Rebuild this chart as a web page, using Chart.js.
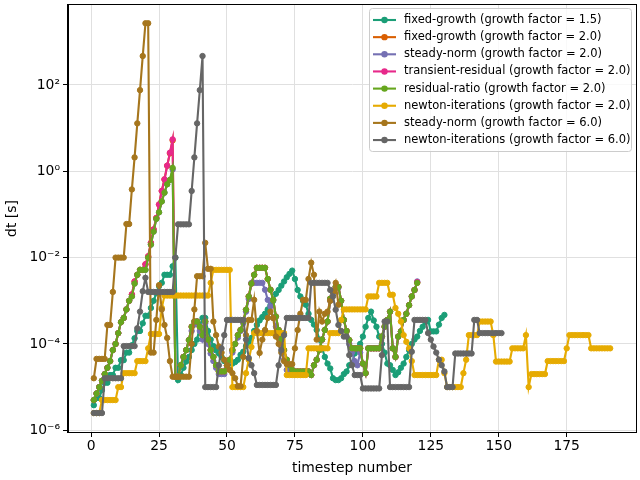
<!DOCTYPE html>
<html><head><meta charset="utf-8">
<script src="https://cdn.jsdelivr.net/npm/chart.js@4"></script>
<style>html,body{margin:0;padding:0;background:#fff}#wrap{width:640px;height:480px}</style>
</head><body><div id="wrap"><canvas id="c" width="640" height="480"></canvas></div>
<script>
const seriesNames = [
  'fixed-growth (growth factor = 1.5)',
  'fixed-growth (growth factor = 2.0)',
  'steady-norm (growth factor = 2.0)',
  'transient-residual (growth factor = 2.0)',
  'residual-ratio (growth factor = 2.0)',
  'newton-iterations (growth factor = 2.0)',
  'steady-norm (growth factor = 6.0)',
  'newton-iterations (growth factor = 6.0)'
];
const seriesColors = ['#1b9e77','#d95f02','#7570b3','#e7298a','#66a61e','#e6ab02','#a6761d','#666666'];
const xTickValues = [0,25,50,75,100,125,150,175];
const yTickValues = [1e-6,1e-4,1e-2,1,1e2];
const yTickLabels = ['10⁻⁶','10⁻⁴','10⁻²','10⁰','10²'];

const fixedGrowth15 = [
 3.8e-6,5.6e-6,5.6e-6,8.5e-6,1.26e-5,1.26e-5,1.9e-5,1.9e-5,2.8e-5,2.8e-5,
 4.2e-5,4.2e-5,6.3e-5,6.3e-5,9.3e-5,1.35e-4,2.0e-4,2.0e-4,3.0e-4,4.5e-4,
 4.5e-4,6.8e-4,1.0e-3,1.5e-3,2.2e-3,2.6e-3,4.0e-3,4.0e-3,4.0e-3,6.3e-3,
 1.0e-2,1.45e-5,1.9e-5,2.8e-5,3.9e-5,5.0e-5,7.2e-5,1.0e-4,1.26e-4,2.5e-4,
 4.0e-4,4.0e-4,2.0e-4,1.26e-4,8.9e-5,7.1e-5,6.0e-5,5.0e-5,4.0e-5,3.5e-5,
 3.5e-5,3.5e-5,3.8e-5,4.3e-5,5.6e-5,6.6e-5,8.9e-5,1.12e-4,1.38e-4,2.0e-4,
 2.75e-4,3.5e-4,4.2e-4,5.0e-4,6.3e-4,7.9e-4,1.0e-3,1.45e-3,1.78e-3,2.24e-3,
 2.8e-3,3.5e-3,4.2e-3,5.0e-3,3.2e-3,1.78e-3,1.26e-3,1.0e-3,8.1e-4,5.0e-4,
 3.6e-4,2.8e-4,2.1e-4,1.26e-4,7.9e-5,5.0e-5,3.5e-5,2.7e-5,1.6e-5,1.45e-5,
 1.45e-5,1.6e-5,2.0e-5,2.3e-5,3.2e-5,3.5e-5,6.0e-5,7.2e-5,1.0e-4,1.48e-4,
 2.5e-4,4.0e-4,5.6e-4,3.5e-4,2.5e-4,1.48e-4,1.0e-4,6.3e-5,3.5e-5,3.2e-5,
 2.5e-5,1.9e-5,2.2e-5,2.8e-5,3.5e-5,5.0e-5,7.2e-5,1.0e-4,1.26e-4,1.48e-4,
 2.0e-4,2.5e-4,3.2e-4,3.6e-4,1.95e-4,1.95e-4,1.95e-4,2.8e-4,4.0e-4,4.7e-4
];
const fixedGrowth20 = [
 5.0e-6,7.1e-6,1.0e-5,1.4e-5,2.0e-5,2.8e-5,4.0e-5,7.2e-5,1.0e-4,1.78e-4,
 3.2e-4,4.0e-4,6.3e-4,1.0e-3,1.4e-3,2.8e-3,4.0e-3,5.2e-3,5.2e-3,7.0e-3,
 1.07e-2,2.2e-2,4.5e-2,8.3e-2,0.17,0.35,0.65,1.35,2.6,5.2,
 1.74e-5,1.74e-5,3.2e-5,5.0e-5,7.2e-5,1.23e-4,2.5e-4,3.3e-4,3.3e-4,2.5e-4,
 1.6e-4,3.3e-4,1.26e-4,7.2e-5,5.0e-5,3.2e-5,2.3e-5,2.3e-5,2.3e-5,3.2e-5,
 4.3e-5,7.2e-5,1.0e-4,1.6e-4,2.1e-4,3.3e-4,6.2e-4,1.26e-3,2.5e-3,4.0e-3,
 5.8e-3,5.8e-3,5.8e-3,5.8e-3,3.2e-3,1.8e-3,1.05e-3,4.3e-4,2.1e-4,1.26e-4,
 7.2e-5,4.3e-5,3.2e-5,2.5e-5,2.3e-5,2.3e-5,2.3e-5,2.3e-5,2.3e-5,2.3e-5,
 1.9e-5,3.2e-5,4.3e-5,7.2e-5,1.26e-4,2.1e-4,3.3e-4,1.12e-3,1.6e-3,2.1e-3,
 2.1e-3,1.0e-3,3.6e-4,2.0e-4,1.23e-4,7.9e-5,7.9e-5,7.9e-5,7.9e-5,3.5e-5,
 2.1e-5,7.9e-5,7.9e-5,7.9e-5,7.9e-5,7.9e-5,1.48e-4,2.5e-4,3.6e-4,5.6e-4,
 7.9e-5,5.0e-5,1.48e-4,1.95e-4,3.6e-4,5.0e-4,7.9e-4,1.26e-3,1.78e-3,2.6e-3
];
const steadyNorm20 = [
 5.0e-6,7.1e-6,1.0e-5,1.4e-5,2.0e-5,2.8e-5,4.0e-5,7.2e-5,1.0e-4,1.78e-4,
 3.2e-4,4.0e-4,6.3e-4,1.0e-3,1.26e-3,2.5e-3,4.0e-3,5.2e-3,5.2e-3,5.2e-3,
 1.0e-2,2.0e-2,4.0e-2,7.9e-2,0.112,0.2,0.32,0.5,0.63,1.1,
 1.74e-5,1.74e-5,3.2e-5,5.0e-5,7.2e-5,1.23e-4,2.0e-4,2.8e-4,3.3e-4,2.0e-4,
 1.26e-4,3.0e-4,1.0e-4,6.0e-5,4.0e-5,2.8e-5,2.0e-5,2.0e-5,2.0e-5,2.8e-5,
 4.0e-5,6.3e-5,1.0e-4,1.4e-4,2.0e-4,3.0e-4,5.6e-4,1.1e-3,2.6e-3,2.6e-3,
 2.6e-3,2.6e-3,2.6e-3,1.8e-3,1.05e-3,7.4e-4,4.0e-4,2.5e-4,1.48e-4,8.7e-5,
 4.3e-5,2.5e-5,2.3e-5,2.0e-5,2.0e-5,2.0e-5,2.0e-5,2.0e-5,2.3e-5,2.3e-5,
 1.9e-5,3.2e-5,4.3e-5,7.2e-5,1.26e-4,2.1e-4,3.3e-4,1.0e-3,1.4e-3,2.0e-3,
 2.0e-3,1.0e-3,3.6e-4,2.0e-4,1.0e-4,6.3e-5,4.0e-5,3.2e-5,6.3e-5,3.5e-5,
 2.1e-5,7.9e-5,7.9e-5,7.9e-5,7.9e-5,7.9e-5,1.48e-4,2.5e-4,3.6e-4,5.6e-4,
 7.9e-5,5.0e-5,1.48e-4,1.95e-4,3.6e-4,5.0e-4,7.9e-4,1.26e-3,1.78e-3,2.8e-3
];
const transientResidual20 = [
 5.0e-6,7.1e-6,1.0e-5,1.4e-5,2.0e-5,2.8e-5,4.0e-5,7.2e-5,1.0e-4,1.78e-4,
 3.2e-4,4.0e-4,6.3e-4,1.0e-3,1.4e-3,2.8e-3,4.0e-3,5.2e-3,5.2e-3,7.0e-3,
 1.07e-2,2.2e-2,4.5e-2,8.3e-2,0.17,0.35,0.65,1.35,2.7,5.5,
 1.74e-5,1.74e-5,3.2e-5,5.0e-5,7.2e-5,1.23e-4,2.5e-4,3.3e-4,3.3e-4,2.5e-4,
 1.6e-4,3.3e-4,1.26e-4,7.2e-5,5.0e-5,3.2e-5,2.3e-5,2.3e-5,2.3e-5,3.2e-5,
 4.3e-5,7.2e-5,1.0e-4,1.6e-4,2.1e-4,3.3e-4,6.2e-4,1.26e-3,2.5e-3,4.0e-3,
 5.8e-3,5.8e-3,5.8e-3,5.8e-3,3.2e-3,1.8e-3,1.05e-3,4.3e-4,2.1e-4,1.26e-4,
 7.2e-5,4.3e-5,3.2e-5,2.5e-5,2.3e-5,2.3e-5,2.3e-5,2.3e-5,2.3e-5,2.3e-5,
 1.9e-5,3.2e-5,4.3e-5,7.2e-5,1.26e-4,2.1e-4,3.3e-4,1.12e-3,1.6e-3,2.1e-3,
 2.1e-3,1.0e-3,3.6e-4,2.0e-4,1.23e-4,7.9e-5,7.9e-5,7.9e-5,7.9e-5,3.5e-5,
 2.1e-5,7.9e-5,7.9e-5,7.9e-5,7.9e-5,7.9e-5,1.48e-4,2.5e-4,3.6e-4,5.6e-4,
 7.9e-5,5.0e-5,1.48e-4,1.95e-4,3.6e-4,5.0e-4,7.9e-4,1.26e-3,1.78e-3,2.7e-3
];
const residualRatio20 = [
 5.0e-6,7.1e-6,1.0e-5,1.4e-5,2.0e-5,2.8e-5,4.0e-5,7.2e-5,1.0e-4,1.78e-4,
 3.2e-4,4.0e-4,6.3e-4,1.0e-3,1.26e-3,2.5e-3,4.0e-3,5.2e-3,5.2e-3,5.2e-3,
 1.0e-2,2.0e-2,4.0e-2,7.9e-2,0.112,0.2,0.32,0.5,0.63,1.2,
 1.74e-5,1.74e-5,3.2e-5,5.0e-5,7.2e-5,1.23e-4,2.5e-4,3.3e-4,3.3e-4,2.5e-4,
 1.6e-4,3.3e-4,1.26e-4,7.2e-5,5.0e-5,3.2e-5,2.3e-5,2.3e-5,2.3e-5,3.2e-5,
 4.3e-5,7.2e-5,1.0e-4,1.6e-4,2.1e-4,3.3e-4,6.2e-4,1.26e-3,2.5e-3,4.0e-3,
 5.8e-3,5.8e-3,5.8e-3,5.8e-3,3.2e-3,1.8e-3,1.05e-3,4.3e-4,2.1e-4,1.26e-4,
 7.2e-5,4.3e-5,3.2e-5,2.5e-5,2.3e-5,2.3e-5,2.3e-5,2.3e-5,2.3e-5,2.3e-5,
 1.9e-5,3.2e-5,4.3e-5,7.2e-5,1.26e-4,2.1e-4,3.3e-4,1.12e-3,1.6e-3,2.1e-3,
 2.1e-3,1.0e-3,3.6e-4,2.0e-4,1.23e-4,7.9e-5,7.9e-5,7.9e-5,7.9e-5,3.5e-5,
 2.1e-5,7.9e-5,7.9e-5,7.9e-5,7.9e-5,7.9e-5,1.48e-4,2.5e-4,3.6e-4,5.6e-4,
 7.9e-5,5.0e-5,1.48e-4,1.95e-4,3.6e-4,5.0e-4,7.9e-4,1.26e-3,1.78e-3,2.6e-3
];
const newtonIterations20 = [
 2.5e-6,2.5e-6,2.5e-6,5.0e-6,5.0e-6,5.0e-6,5.0e-6,5.0e-6,5.0e-6,1.0e-5,
 1.0e-5,2.1e-5,2.1e-5,2.1e-5,2.1e-5,2.1e-5,4.0e-5,4.0e-5,4.0e-5,4.0e-5,
 7.9e-5,1.7e-4,1.7e-4,1.7e-4,1.7e-4,6.8e-4,1.32e-3,1.32e-3,1.32e-3,1.32e-3,
 1.32e-3,1.32e-3,1.32e-3,1.32e-3,1.32e-3,1.32e-3,1.32e-3,1.32e-3,1.32e-3,1.32e-3,
 1.32e-3,1.32e-3,1.32e-3,2.6e-3,5.2e-3,5.2e-3,5.2e-3,5.2e-3,5.2e-3,5.2e-3,
 5.2e-3,1.0e-5,1.0e-5,1.0e-5,1.0e-5,1.0e-5,2.1e-5,4.3e-5,8.5e-5,1.78e-4,
 1.78e-4,1.78e-4,1.78e-4,1.78e-4,1.78e-4,1.78e-4,1.78e-4,1.78e-4,1.78e-4,1.78e-4,
 1.78e-4,1.9e-5,1.9e-5,1.9e-5,1.9e-5,1.9e-5,1.9e-5,1.9e-5,1.9e-5,7.9e-5,
 7.9e-5,7.9e-5,7.9e-5,7.9e-5,7.9e-5,7.9e-5,7.9e-5,1.78e-4,1.78e-4,1.78e-4,
 1.78e-4,3.6e-4,6.3e-4,6.3e-4,6.3e-4,6.3e-4,6.3e-4,6.3e-4,6.3e-4,6.3e-4,
 6.3e-4,1.26e-3,1.26e-3,1.26e-3,1.26e-3,2.6e-3,2.6e-3,2.6e-3,2.6e-3,1.38e-3,
 1.38e-3,6.8e-4,5.0e-4,3.3e-4,1.6e-4,1.12e-4,7.9e-5,4.0e-5,1.9e-5,1.9e-5,
 1.9e-5,1.9e-5,1.9e-5,1.9e-5,1.9e-5,1.9e-5,1.9e-5,4.3e-5,4.3e-5,2.1e-5,
 1.0e-5,1.0e-5,1.0e-5,1.0e-5,1.0e-5,1.0e-5,2.1e-5,4.3e-5,1.6e-4,1.6e-4,
 1.6e-4,1.6e-4,3.3e-4,3.3e-4,3.3e-4,3.3e-4,3.3e-4,1.6e-4,3.9e-5,3.9e-5,
 3.9e-5,3.9e-5,3.9e-5,3.9e-5,7.9e-5,7.9e-5,7.9e-5,7.9e-5,7.9e-5,1.6e-4,
 1.0e-5,2.0e-5,2.0e-5,2.0e-5,2.0e-5,2.0e-5,2.0e-5,4.0e-5,4.0e-5,4.0e-5,
 4.0e-5,4.0e-5,4.0e-5,4.0e-5,7.9e-5,1.6e-4,1.6e-4,1.6e-4,1.6e-4,1.6e-4,
 1.6e-4,1.6e-4,1.6e-4,7.9e-5,7.9e-5,7.9e-5,7.9e-5,7.9e-5,7.9e-5,7.9e-5,7.9e-5
];
const steadyNorm60 = [
 1.6e-5,4.5e-5,4.5e-5,4.5e-5,4.5e-5,2.75e-4,2.75e-4,1.6e-3,1.0e-2,1.0e-2,
 1.0e-2,1.0e-2,6.0e-2,6.0e-2,0.38,2.1,12.9,76,468,2690,
 2690,6.3e-5,6.3e-5,3.6e-4,2.3e-3,6.3e-4,2.75e-4,1.38e-4,4.0e-5,1.74e-5,
 1.74e-5,1.74e-5,1.74e-5,1.74e-5,1.74e-5,1.74e-5,1.0e-4,6.3e-4,3.7e-3,3.7e-3,
 3.7e-3,2.2e-2,5.5e-3,5.5e-3,3.3e-4,1.6e-4,8.7e-5,6.3e-5,4.3e-5,3.2e-5,
 2.5e-5,2.1e-5,1.6e-5,1.05e-5,1.05e-5,5.0e-5,1.6e-4,3.6e-4,3.6e-4,1.05e-3,
 2.0e-4,6.2e-5,1.26e-4,2.1e-4,4.0e-4,5.6e-4,4.0e-4,1.48e-4,1.0e-4,6.3e-5,
 4.0e-5,3.4e-5,3.4e-5,3.4e-5,7.9e-5,2.1e-4,5.0e-4,1.05e-3,1.05e-3,3.2e-3,
 7.6e-3,4.0e-3,1.26e-4,5.6e-4,3.3e-4,5.0e-4,5.6e-4,1.0e-3,1.6e-3,2.6e-3,8.1e-4
];
const newtonIterations60 = [
 2.5e-6,2.5e-6,2.5e-6,2.5e-6,1.6e-5,1.6e-5,1.6e-5,1.6e-5,1.6e-5,1.6e-5,
 1.6e-5,8.9e-5,8.9e-5,8.9e-5,8.9e-5,8.9e-5,2.3e-4,5.6e-4,1.66e-3,3.4e-3,
 1.6e-3,1.6e-3,1.6e-3,1.6e-3,1.6e-3,1.6e-3,1.6e-3,1.6e-3,1.6e-3,1.6e-3,
 1.0e-2,5.9e-2,5.9e-2,5.9e-2,5.9e-2,5.9e-2,0.35,2.1,12.9,76,
 468,1.0e-5,1.0e-5,1.0e-5,1.0e-5,1.0e-5,3.2e-5,7.9e-5,1.6e-4,3.6e-4,
 3.6e-4,3.6e-4,3.6e-4,3.6e-4,3.6e-4,3.6e-4,1.26e-4,4.7e-5,3.2e-5,2.1e-5,
 1.12e-5,1.12e-5,1.12e-5,1.12e-5,1.12e-5,1.12e-5,1.12e-5,1.12e-5,3.2e-5,7.2e-5,
 1.6e-4,4.0e-4,4.0e-4,4.0e-4,4.0e-4,4.0e-4,4.0e-4,4.0e-4,4.0e-4,4.0e-4,
 2.6e-3,2.6e-3,2.6e-3,2.6e-3,2.6e-3,2.6e-3,2.6e-3,1.78e-3,1.26e-3,6.2e-4,
 2.75e-4,2.0e-4,1.48e-4,1.48e-4,5.5e-5,3.2e-5,1.9e-5,1.9e-5,1.9e-5,9.3e-6,
 9.3e-6,9.3e-6,9.3e-6,9.3e-6,9.3e-6,9.3e-6,5.5e-5,3.3e-4,3.3e-4,1.0e-5,
 1.0e-5,1.0e-5,1.0e-5,1.0e-5,1.0e-5,1.0e-5,1.0e-5,6.6e-5,3.6e-4,3.6e-4,
 3.6e-4,3.6e-4,3.6e-4,1.78e-4,1.26e-4,8.7e-5,6.3e-5,4.3e-5,3.2e-5,2.3e-5,
 1.0e-5,1.0e-5,1.0e-5,6.0e-5,6.0e-5,6.0e-5,6.0e-5,6.0e-5,6.0e-5,6.0e-5,
 3.6e-4,3.6e-4,1.78e-4,1.78e-4,1.78e-4,1.78e-4,1.78e-4,1.78e-4,1.78e-4,1.78e-4,1.78e-4
];

const allSeries = [fixedGrowth15, fixedGrowth20, steadyNorm20, transientResidual20,
  residualRatio20, newtonIterations20, steadyNorm60, newtonIterations60];

const FONT = "'DejaVu Sans', sans-serif";
Chart.defaults.font.family = FONT;
Chart.defaults.color = '#000';

const datasets = allSeries.map((vals, i) => ({
  label: seriesNames[i],
  data: vals.map((v, k) => ({x: k + 1, y: v})),
  borderColor: seriesColors[i],
  backgroundColor: seriesColors[i],
  pointBackgroundColor: seriesColors[i],
  pointBorderColor: seriesColors[i],
  borderWidth: 2.1,
  pointRadius: 2.7,
  pointBorderWidth: 1,
  pointHoverRadius: 2.7,
  tension: 0,
  order: allSeries.length - 1 - i
}));

const mplLegend = {
  id: 'mplLegend',
  afterDatasetsDraw(chart) {
    const ctx = chart.ctx;
    ctx.save();
    const x0 = 369.5, y0 = 8.5, w = 262, h = 143, r = 3;
    ctx.beginPath();
    ctx.moveTo(x0 + r, y0);
    ctx.lineTo(x0 + w - r, y0); ctx.arcTo(x0 + w, y0, x0 + w, y0 + r, r);
    ctx.lineTo(x0 + w, y0 + h - r); ctx.arcTo(x0 + w, y0 + h, x0 + w - r, y0 + h, r);
    ctx.lineTo(x0 + r, y0 + h); ctx.arcTo(x0, y0 + h, x0, y0 + h - r, r);
    ctx.lineTo(x0, y0 + r); ctx.arcTo(x0, y0, x0 + r, y0, r);
    ctx.closePath();
    ctx.fillStyle = 'rgba(255,255,255,0.8)';
    ctx.fill();
    ctx.strokeStyle = '#cccccc';
    ctx.lineWidth = 1;
    ctx.stroke();
    ctx.font = '11.5px ' + FONT;
    ctx.textBaseline = 'middle';
    ctx.textAlign = 'left';
    seriesNames.forEach((name, i) => {
      const y = 20 + i * 17.15;
      ctx.strokeStyle = seriesColors[i];
      ctx.lineWidth = 2.1;
      ctx.beginPath(); ctx.moveTo(373, y); ctx.lineTo(396, y); ctx.stroke();
      ctx.fillStyle = seriesColors[i];
      ctx.beginPath(); ctx.arc(384.5, y, 3.2, 0, Math.PI * 2); ctx.fill();
      ctx.fillStyle = '#000';
      ctx.fillText(name, 404, y);
    });
    ctx.restore();
  },
  afterDraw(chart) {
    const a = chart.chartArea, ctx = chart.ctx;
    ctx.save();
    ctx.strokeStyle = '#000';
    ctx.lineWidth = 1;
    ctx.strokeRect(Math.round(a.left) - 0.5, Math.round(a.top) - 0.5,
      Math.round(a.right - a.left) + 1, Math.round(a.bottom - a.top) + 1);
    ctx.restore();
  }
};

new Chart(document.getElementById('c'), {
  type: 'line',
  data: { datasets },
  plugins: [mplLegend],
  options: {
    responsive: false,
    devicePixelRatio: 1,
    animation: false,
    events: [],
    layout: { padding: { left: 0, right: 4, top: 5, bottom: 0 } },
    plugins: { legend: { display: false }, tooltip: { enabled: false } },
    scales: {
      x: {
        type: 'linear',
        min: -8.5, max: 200.5,
        afterBuildTicks: s => { s.ticks = xTickValues.map(v => ({ value: v })); },
        afterFit: s => { s.height = 48; s.paddingLeft = 0; s.paddingRight = 0; },
        ticks: { autoSkip: false, maxRotation: 0, padding: 1, font: { size: 13.9 },
                 callback: v => String(v) },
        grid: { color: '#e0e0e0', lineWidth: 1, tickColor: '#000', tickLength: 5 },
        border: { color: '#000', width: 1 },
        title: { display: true, text: 'timestep number', font: { size: 13.9 },
                 padding: { top: 0, bottom: 3 } }
      },
      y: {
        type: 'logarithmic',
        min: 9.1e-7, max: 7130,
        afterBuildTicks: s => { s.ticks = yTickValues.map(v => ({ value: v })); },
        afterFit: s => { s.width = 68; s.paddingTop = 0; s.paddingBottom = 0; },
        ticks: { autoSkip: false, padding: 3, font: { size: 13.9 },
                 callback: (v, i) => yTickLabels[i] },
        grid: { color: '#e0e0e0', lineWidth: 1, tickColor: '#000', tickLength: 5 },
        border: { color: '#000', width: 1 },
        title: { display: true, text: 'dt [s]', font: { size: 13.9 },
                 padding: { top: 4, bottom: 0 } }
      }
    }
  }
});
</script>
</body></html>
